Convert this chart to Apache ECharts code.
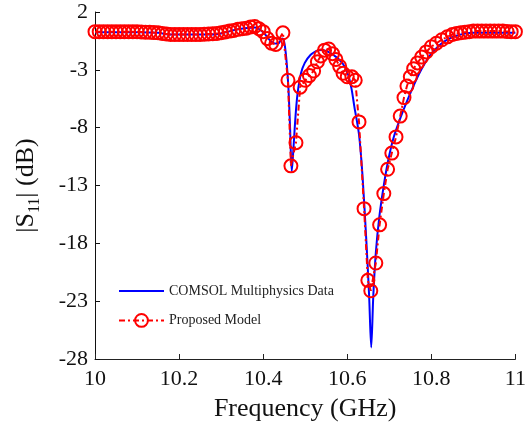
<!DOCTYPE html>
<html>
<head>
<meta charset="utf-8">
<script src="https://cdn.jsdelivr.net/npm/echarts@6/dist/echarts.min.js"></script>
<style>html,body{margin:0;padding:0;background:#fff}#c{width:529px;height:427px}</style>
</head>
<body>
<div id="c"></div>
<script>
// COMSOL Multiphysics data (frequency GHz, |S11| dB)
var comsolFreq = [10.00,10.10,10.15,10.18,10.27,10.30,10.34,10.38,10.40,10.42,10.435,10.445,10.45,10.455,10.46,10.464,10.468,10.472,10.477,10.482,10.49,10.499,10.513,10.527,10.539,10.555,10.574,10.59,10.602,10.61,10.617,10.628,10.636,10.645,10.652,10.657,10.662,10.668,10.676,10.686,10.697,10.71,10.725,10.74,10.755,10.77,10.785,10.80,10.82,10.84,10.86,10.88,10.90,10.95,11.00];
var comsolS11 = [0.25,0.25,0.2,0.05,0.05,0.15,0.5,0.65,0.25,-0.6,-0.75,-0.3,-0.6,-2.0,-4.5,-8.0,-11.8,-9.8,-7.0,-5.0,-3.3,-2.4,-1.7,-1.36,-1.28,-1.45,-1.9,-2.5,-3.4,-4.6,-6.2,-8.6,-12,-17.5,-22.5,-27,-22.5,-18.8,-15.8,-13.2,-10.9,-8.9,-7.3,-5.9,-4.6,-3.4,-2.4,-1.6,-0.85,-0.35,-0.05,0.15,0.2,0.2,0.2];

// Proposed model
var modelFreq = [10.00,10.01,10.02,10.03,10.04,10.05,10.06,10.07,10.08,10.09,10.10,10.11,10.12,10.13,10.14,10.15,10.16,10.17,10.18,10.19,10.20,10.21,10.22,10.23,10.24,10.25,10.26,10.27,10.28,10.29,10.30,10.31,10.32,10.33,10.34,10.35,10.36,10.37,10.38,10.39,10.40,10.41,10.42,10.43,10.447,10.459,10.466,10.478,10.488,10.50,10.51,10.52,10.529,10.537,10.546,10.556,10.565,10.573,10.582,10.59,10.60,10.611,10.619,10.628,10.64,10.649,10.656,10.668,10.677,10.687,10.696,10.706,10.716,10.726,10.735,10.742,10.75,10.758,10.767,10.777,10.788,10.80,10.812,10.825,10.838,10.85,10.86,10.87,10.88,10.89,10.90,10.91,10.92,10.93,10.94,10.95,10.96,10.97,10.98,10.99,11.00];
var modelS11 = [0.3,0.3,0.3,0.3,0.3,0.3,0.3,0.3,0.3,0.3,0.3,0.28,0.25,0.25,0.22,0.2,0.15,0.1,0.05,0.05,0.05,0.05,0.05,0.05,0.05,0.05,0.08,0.1,0.12,0.15,0.2,0.28,0.35,0.4,0.5,0.55,0.6,0.7,0.75,0.55,0.3,-0.3,-0.7,-0.8,0.2,-3.9,-11.3,-9.3,-4.5,-3.9,-3.5,-3.1,-2.3,-1.8,-1.3,-1.2,-1.6,-2.1,-2.7,-3.3,-3.6,-3.6,-3.9,-7.5,-15.0,-21.2,-22.1,-19.7,-16.4,-13.7,-11.6,-10.2,-8.8,-7.0,-5.4,-4.4,-3.6,-2.9,-2.4,-1.9,-1.45,-1.0,-0.7,-0.4,-0.15,0.05,0.15,0.2,0.25,0.3,0.35,0.35,0.35,0.35,0.35,0.35,0.35,0.35,0.32,0.3,0.3];

var yTicks = [2,-3,-8,-13,-18,-23,-28];

function pairs(xs, ys){ return xs.map(function(x,i){ return [x, ys[i]]; }); }

var serif = 'Liberation Serif';
var chart = echarts.init(document.getElementById('c'), null, {renderer:'canvas'});
chart.setOption({
  animation: false,
  backgroundColor: '#fff',
  grid: {left: 95, right: 9, top: 12, bottom: 67},
  legend: {
    orient: 'vertical', left: 113, top: 279, itemWidth: 45, itemHeight: 16, itemGap: 15,
    textStyle: {fontFamily: serif, fontSize: 14, color: '#222'},
    data: [
      {name: 'COMSOL Multiphysics Data', itemStyle: {opacity: 0}},
      {name: 'Proposed Model'}
    ]
  },
  xAxis: {
    type: 'value', min: 10, max: 11, interval: 0.2,
    name: 'Frequency (GHz)', nameLocation: 'middle', nameGap: 37,
    nameTextStyle: {fontFamily: serif, fontSize: 26, color: '#111'},
    axisLine: {onZero: false, lineStyle: {color: '#222', width: 1}},
    axisTick: {inside: true, length: 5, lineStyle: {color: '#222'}},
    axisLabel: {fontFamily: serif, fontSize: 22, color: '#111', margin: 9,
      formatter: function(v){ return (Math.round(v*10)/10).toString(); }},
    splitLine: {show: false}
  },
  yAxis: {
    type: 'value', min: yTicks[yTicks.length-1], max: yTicks[0], interval: 5,
    name: '|S{sub|11}| (dB)', nameLocation: 'middle', nameGap: 52,
    nameTextStyle: {fontFamily: serif, fontSize: 26, color: '#111',
      rich: {sub: {fontFamily: serif, fontSize: 16, color: '#111', verticalAlign: 'bottom', padding: [18,0,0,0]}}},
    axisLine: {show: true, onZero: false, lineStyle: {color: '#111', width: 1}},
    axisTick: {show: true, inside: true, length: 5, lineStyle: {color: '#111'}},
    axisLabel: {fontFamily: serif, fontSize: 22, color: '#111', margin: 7},
    splitLine: {show: false}
  },
  series: [
    {
      name: 'COMSOL Multiphysics Data', type: 'line', data: pairs(comsolFreq, comsolS11),
      showSymbol: false, symbol: 'none', smooth: 0.3,
      lineStyle: {color: '#0000ff', width: 2}, itemStyle: {color: '#0000ff'}, z: 2
    },
    {
      name: 'Proposed Model', type: 'line', data: pairs(modelFreq, modelS11),
      symbol: 'circle', symbolSize: 13, showSymbol: true, showAllSymbol: true,
      lineStyle: {color: '#ff0000', width: 2, type: [6,3,2,3]},
      itemStyle: {color: 'rgba(255,255,255,0)', borderColor: '#ff0000', borderWidth: 2}, z: 3
    }
  ]
});
</script>
</body>
</html>
